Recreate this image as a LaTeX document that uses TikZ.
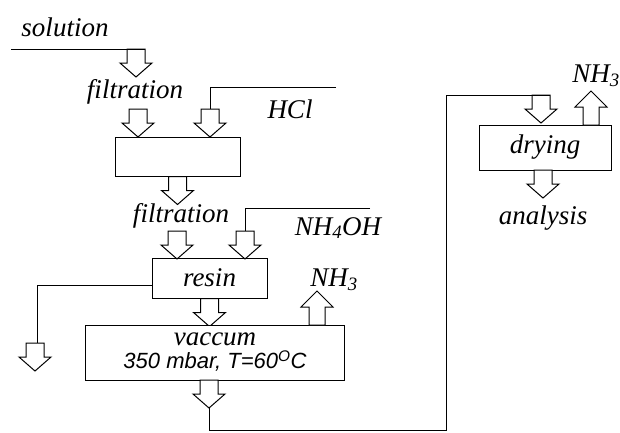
\documentclass[tikz,border=0pt]{standalone}
\usepackage{fontspec}
\setmainfont{Liberation Serif}
\setsansfont{Liberation Sans}
\usetikzlibrary{positioning}

\tikzset{
  unit/.style={draw, line width=1pt, fill=white, inner sep=0pt},
  tag/.style={font=\fontsize{27}{30}\selectfont\itshape, inner sep=0pt},
  feed/.style={line width=1pt},
  arrow down/.pic={\draw[line width=1pt, fill=white] (-9,0) -- (-9,14) -- (-16,14) -- (0,28) -- (16,14) -- (9,14) -- (9,0) -- cycle;},
  arrow up/.pic={\draw[line width=1pt, fill=white] (-8,0) -- (-8,-18) -- (-16,-18) -- (0,-34) -- (16,-18) -- (8,-18) -- (8,0) -- cycle;}
}

\begin{document}
\begin{tikzpicture}[x=1pt, y=-1pt]
\useasboundingbox (0,0) rectangle (620,432);

% first filtration and acid step
\node[tag] (solution) at (65,27) {solution};
\coordinate (sol) at (11,49);
\coordinate (a1) at (136,49);
\pic at (a1) {arrow down};
\draw[feed] (sol) -- ([xshift=9pt]a1);
\node[tag] (filt1) at (135,92) {filtration};
\node[unit, minimum width=125pt, minimum height=39pt] (acid) at (177.5,156.5) {};
\pic at (138,109) {arrow down};
\coordinate (a3) at (210,109);
\pic at (a3) {arrow down};
\node[tag] (hcl) at (290,109) {HCl};
\coordinate (hclin) at (336,87);
\draw[feed] (hclin) -- (a3 |- hclin) -- (a3);

% second filtration and resin
\pic at (acid.south) {arrow down};
\node[tag] (filt2) at (181,216) {filtration};
\node[unit, tag, inner sep=0pt, minimum width=115pt, minimum height=40pt] (resin) at (209.5,278) {resin};
\pic at (177,231) {arrow down};
\coordinate (a6) at (245,231);
\pic at (a6) {arrow down};
\node[tag] (nh4oh) at (338,228) {NH\textsubscript{4}OH};
\coordinate (nhin) at (370,208);
\draw[feed] (nhin) -- (a6 |- nhin) -- (a6);
\coordinate (waste) at (37,343);
\draw[feed] ([yshift=-7pt]resin.west) -| (waste);
\pic at ([xshift=-2pt]waste) {arrow down};

% vacuum step
\pic at (resin.south) {arrow down};
\node[unit, minimum width=259pt, minimum height=55pt, align=center, font=\fontsize{27}{23}\selectfont\itshape] (vaccum) at (215,352.5)
  {vaccum\\{\sffamily\fontsize{22}{23}\selectfont 350 mbar, T=60\textsuperscript{O}C}};
\pic at (317,325) {arrow up};
\node[tag] (nh3a) at (334,280) {NH\textsubscript{3}};
\pic at (209,380) {arrow down};
\coordinate (vout) at (209,408);

% drying step
\node[unit, tag, minimum width=132pt, minimum height=45pt] (drying) at (545,147.5) {drying};
\coordinate (a11) at (541,95);
\pic at (a11) {arrow down};
\draw[feed] (vout) -- (209,430) -- (446,430) -- (446,95) -- ([xshift=9pt]a11);
\pic at (591,125) {arrow up};
\node[tag] (nh3b) at (596,76) {NH\textsubscript{3}};
\pic at (543,170) {arrow down};
\node[tag] (analysis) at (543,218) {analysis};
\end{tikzpicture}
\end{document}
